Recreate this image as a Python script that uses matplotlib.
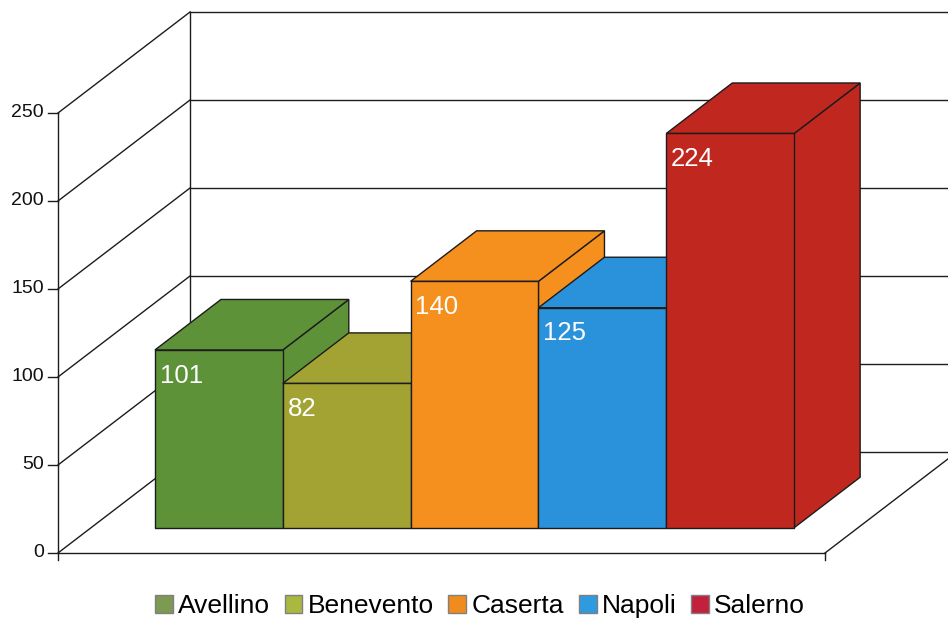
import matplotlib.pyplot as plt
from matplotlib.patches import Polygon, Patch

plt.rcParams['font.family'] = ['Liberation Sans', 'DejaVu Sans']

# data
provinces = ['Avellino', 'Benevento', 'Caserta', 'Napoli', 'Salerno']
values = [101, 82, 140, 125, 224]
bar_colors = ['#5e9239', '#a3a334', '#f5901f', '#2a91db', '#c0271f']
legend_colors = ['#7c9a52', '#a9b83e', '#f08c1e', '#2e9be0', '#c2203c']
yticks = [0, 50, 100, 150, 200, 250]

# fake 3d: going back in depth moves a point right and up
DX, DY = 1.033, 57.4
D0, D1 = 0.25, 0.75  # depth of the bars inside the box


def shift(x, y, d):
    return (x + d * DX, y + d * DY)


fig = plt.figure(figsize=(9.48, 6.21), dpi=100)
ax = fig.add_axes([0, 0, 1, 1])
ax.set_xlim(-0.4537, 6.962)
ax.set_ylim(-38.64, 314.2)
ax.axis('off')

xmin, xmax = 0, len(provinces) + 1
lc = '#1c1c1c'
lw = 1.0

# walls, gridlines, ticks
for v in yticks:
    b0 = shift(xmin, v, 1)
    b1 = shift(xmax, v, 1)
    ax.plot([b0[0], b1[0]], [b0[1], b1[1]], color=lc, lw=lw, zorder=1)
    ax.plot([xmin, b0[0]], [v, b0[1]], color=lc, lw=lw, zorder=1)
    ax.plot([xmin - 0.078, xmin], [v, v], color=lc, lw=lw, zorder=1)
    ax.text(xmin - 0.11, v, str(v), ha='right', va='center', fontsize=14, color='#111111')

top_back = shift(xmin, yticks[-1], 1)
bot_back = shift(xmin, 0, 1)
ax.plot([bot_back[0], top_back[0]], [bot_back[1], top_back[1]], color=lc, lw=lw, zorder=1)
ax.plot([xmin, xmin], [-4, yticks[-1]], color=lc, lw=lw, zorder=1)

# floor
right_back = shift(xmax, 0, 1)
ax.plot([xmin, xmax], [0, 0], color=lc, lw=lw, zorder=1)
ax.plot([xmax, right_back[0]], [0, right_back[1]], color=lc, lw=lw, zorder=1)
ax.plot([xmax, xmax], [0, -4], color=lc, lw=lw, zorder=1)

# bars, left to right so the later ones cover the earlier ones
for i, (name, v, c) in enumerate(zip(provinces, values, bar_colors)):
    x0, x1 = i + 0.5, i + 1.5
    front = [shift(x0, 0, D0), shift(x1, 0, D0), shift(x1, v, D0), shift(x0, v, D0)]
    top = [shift(x0, v, D0), shift(x1, v, D0), shift(x1, v, D1), shift(x0, v, D1)]
    side = [shift(x1, 0, D0), shift(x1, 0, D1), shift(x1, v, D1), shift(x1, v, D0)]
    z = 2 + i * 3
    ax.add_patch(Polygon(side, closed=True, facecolor=c, edgecolor=lc, lw=lw, zorder=z))
    ax.add_patch(Polygon(top, closed=True, facecolor=c, edgecolor=lc, lw=lw, zorder=z + 1))
    ax.add_patch(Polygon(front, closed=True, facecolor=c, edgecolor=lc, lw=lw, zorder=z + 2))
    ax.annotate(str(v), xy=shift(x0, v, D0), xytext=(3.5, -18.5), textcoords='offset points',
                color='white', fontsize=18.5, ha='left', va='center', zorder=z + 2.5)

handles = [Patch(facecolor=c, edgecolor='#808080', label=p) for p, c in zip(provinces, legend_colors)]
fig.legend(handles=handles, loc='center', bbox_to_anchor=(480 / 948, 1 - 606 / 621), ncol=5,
           frameon=False, fontsize=19, handlelength=0.68, handleheight=0.68,
           handletextpad=0.2, columnspacing=0.55, borderpad=0)

fig.savefig('out.png', dpi=100)
